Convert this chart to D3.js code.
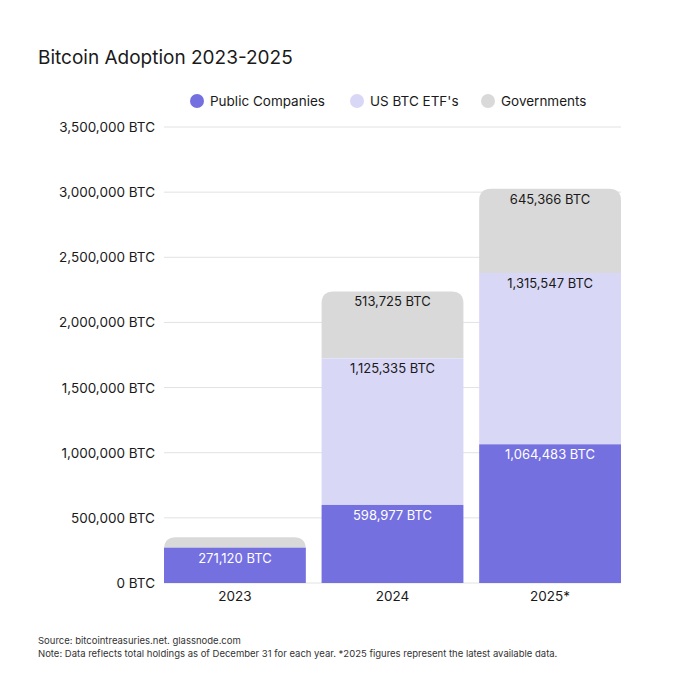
<!DOCTYPE html>
<html><head><meta charset="utf-8">
<script src="https://cdn.jsdelivr.net/npm/d3@7"></script>
<style>body{margin:0;background:#fff}svg{font-family:Inter,"Noto Sans",sans-serif}</style>
</head><body><svg id="c" width="680" height="680"></svg>
<script>
const years = ["2023","2024","2025*"];
const publicCompanies = [271120, 598977, 1064483];
const etfs = [0, 1125335, 1315547];
const governments = [80000, 513725, 645366];
const yTicks = [0,500000,1000000,1500000,2000000,2500000,3000000,3500000];
const seriesNames = ["Public Companies","US BTC ETF's","Governments"];
const colors = ["#7470df","#d9d7f6","#d9d9d9"];
const labelColors = ["#ffffff","#1a1a1a","#1a1a1a"];
const showLabel = [[true,false,false],[true,true,true],[true,true,true]];

const svg = d3.select("#c");
const x = d3.scaleBand().domain(years).range([164,621]).paddingInner(0.1).paddingOuter(0);
const y = d3.scaleLinear().domain([0,3500000]).range([583,127]);
const fmt = d3.format(",");

svg.append("text").attr("x",38).attr("y",64).attr("font-size",19).attr("fill","#1a1a1a").text("Bitcoin Adoption 2023-2025");

const lx=[197,357,488];
seriesNames.forEach((n,i)=>{
  svg.append("circle").attr("cx",lx[i]).attr("cy",101).attr("r",7).attr("fill",colors[i]);
  svg.append("text").attr("x",lx[i]+13).attr("y",106).attr("font-size",13.5).attr("fill","#1a1a1a").text(n);
});

yTicks.forEach(t=>{
  svg.append("line").attr("x1",164).attr("x2",621).attr("y1",y(t)).attr("y2",y(t)).attr("stroke","#e2e2e2");
  svg.append("text").attr("x",155).attr("y",y(t)+5).attr("text-anchor","end").attr("font-size",13.5).attr("fill","#1a1a1a").text(fmt(t)+" BTC");
});

const data = years.map((yr,i)=>({yr, v:[publicCompanies[i],etfs[i],governments[i]]}));
const r=12;
data.forEach((d,i)=>{
  const bx=x(d.yr), bw=x.bandwidth();
  let base=0;
  const tops=[];
  d.v.forEach((v,s)=>{ tops.push([base,base+v]); base+=v; });
  for(let s=2;s>=0;s--){
    const [b0,b1]=tops[s]; if(b1-b0<=0) continue;
    const y0=y(b1), y1=y(b0);
    if(s===2){
      const p=`M${bx},${y1}V${y0+r}Q${bx},${y0} ${bx+r},${y0}H${bx+bw-r}Q${bx+bw},${y0} ${bx+bw},${y0+r}V${y1}Z`;
      svg.append("path").attr("d",p).attr("fill",colors[s]);
    } else {
      svg.append("rect").attr("x",bx).attr("y",y0).attr("width",bw).attr("height",y1-y0).attr("fill",colors[s]);
    }
  }
  for(let s=0;s<3;s++){
    const [b0,b1]=tops[s];
    if(showLabel[i][s]){
      svg.append("text").attr("x",bx+bw/2).attr("y",y(b1)+15).attr("text-anchor","middle").attr("font-size",13)
        .attr("fill",labelColors[s]).text(fmt(d.v[s])+" BTC");
    }
  }
  svg.append("text").attr("x",bx+bw/2).attr("y",601).attr("text-anchor","middle").attr("font-size",13.5).attr("fill","#1a1a1a").text(d.yr);
});

svg.append("text").attr("x",38).attr("y",644).attr("font-size",9.5).attr("fill","#333").text("Source: bitcointreasuries.net. glassnode.com");
svg.append("text").attr("x",38).attr("y",657).attr("font-size",9.5).attr("fill","#333").text("Note: Data reflects total holdings as of December 31 for each year. *2025 figures represent the latest available data.");
</script></body></html>
